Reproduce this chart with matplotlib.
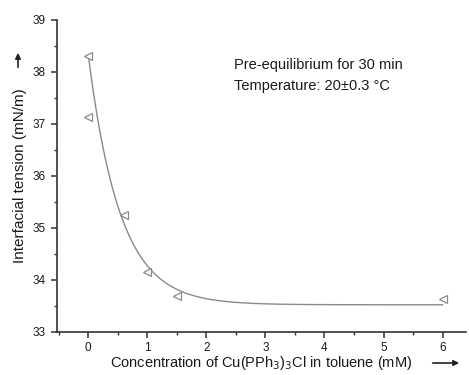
import numpy as np
import matplotlib
matplotlib.use("Agg")
import matplotlib.pyplot as plt

plt.rcParams['font.family'] = ['Liberation Sans', 'DejaVu Sans']

# data
conc = [0.0, 0.0, 0.6, 1.0, 1.5, 6.0]
tension = [38.30, 37.13, 35.25, 34.16, 33.69, 33.64]
x_ticks = [0, 1, 2, 3, 4, 5, 6]
y_ticks = [33, 34, 35, 36, 37, 38, 39]

# exponential decay fit y = y0 + A*exp(-x/t) (the lower x=0 repeat is left out of the fit)
fit_idx = [0, 2, 3, 4, 5]
xd = np.array(conc)[fit_idx]; yd = np.array(tension)[fit_idx]
best = None
for t in np.linspace(0.2, 1.5, 1301):
    M = np.column_stack([np.ones_like(xd), np.exp(-xd / t)])
    coef, *_ = np.linalg.lstsq(M, yd, rcond=None)
    err = np.sum((M @ coef - yd) ** 2)
    if best is None or err < best[0]:
        best = (err, t, coef)
_, tau, (y0, A) = best
xf = np.linspace(0, 6, 400)
yf = y0 + A * np.exp(-xf / tau)

fig = plt.figure(figsize=(4.69, 3.75), dpi=100)
ax = fig.add_axes([0.1215, 0.1147, 0.8725, 0.832])
ax.plot(xf, yf, color='#8a8a8a', lw=1.0, zorder=2)
ax.plot(conc, tension, linestyle='none', marker='<', markersize=6,
        markerfacecolor='white', markeredgecolor='#8a8a8a', markeredgewidth=0.9, zorder=3)

ax.set_xlim(-0.53, 6.4)
ax.set_ylim(33, 39)
ax.set_xticks(x_ticks)
ax.set_yticks(y_ticks)
ax.set_xticks(np.arange(-0.5, 6.5, 0.5), minor=True)
ax.set_yticks(np.arange(33, 39.01, 0.5), minor=True)
for s in ['top', 'right']:
    ax.spines[s].set_visible(False)
for s in ['left', 'bottom']:
    ax.spines[s].set_linewidth(1.2)
    ax.spines[s].set_color('#333333')
ax.tick_params(which='major', direction='out', length=4, width=1.1, labelsize=8.5,
               colors='#333333', labelcolor='#1a1a1a')
ax.tick_params(axis='x', which='major', pad=3)
ax.tick_params(axis='y', which='major', pad=4)
ax.tick_params(which='minor', direction='out', length=2.5, width=1.0, colors='#333333')

ax.set_xlabel('Concentration of Cu(PPh$_3$)$_3$Cl in toluene (mM)', fontsize=10.5,
              color='#1a1a1a', labelpad=0)
ax.set_ylabel('Interfacial tension (mN/m)', fontsize=11, color='#1a1a1a', labelpad=4)

ax.text(2.46, 38.13, 'Pre-equilibrium for 30 min', fontsize=10.5, color='#1a1a1a', va='center')
ax.text(2.46, 37.73, 'Temperature: 20±0.3 °C', fontsize=10.5, color='#1a1a1a', va='center')

# arrows beside axis labels
fig.patches.append(matplotlib.patches.FancyArrowPatch((18/469, 1-70/375), (18/469, 1-50/375),
        transform=fig.transFigure, arrowstyle='-|>', mutation_scale=8, lw=1.2, color='#222222'))
fig.patches.append(matplotlib.patches.FancyArrowPatch((430/469, 1-363/375), (462/469, 1-363/375),
        transform=fig.transFigure, arrowstyle='-|>', mutation_scale=8, lw=1.2, color='#222222'))

fig.savefig('out.png', dpi=100)
